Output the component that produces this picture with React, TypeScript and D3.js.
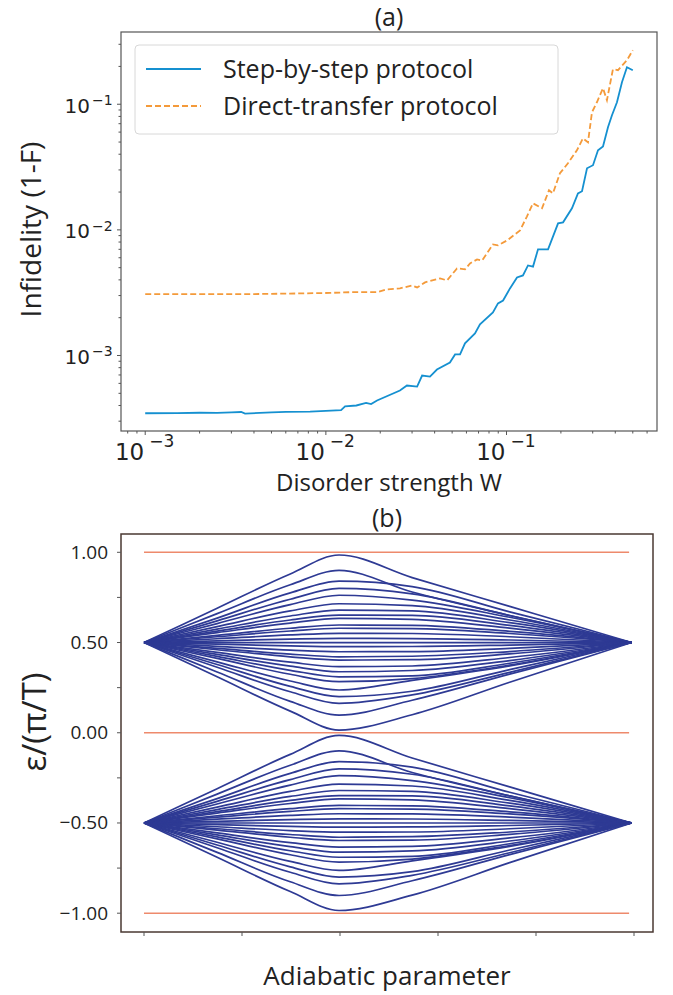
import React from "react";
import * as d3 from "d3";

// panel (a): infidelity vs disorder strength
const stepW = [0.001, 0.0015, 0.002, 0.0025, 0.003, 0.0034, 0.00357, 0.005, 0.006, 0.00818, 0.01, 0.01214, 0.01277, 0.01475, 0.01669, 0.0178, 0.0192, 0.0257, 0.0281, 0.032, 0.0341, 0.0377, 0.0412, 0.0486, 0.0519, 0.0553, 0.0589, 0.0669, 0.0713, 0.0841, 0.0897, 0.0957, 0.1045, 0.1143, 0.1233, 0.1315, 0.1402, 0.1494, 0.1698, 0.1929, 0.2056, 0.2303, 0.2486, 0.2618, 0.279, 0.3011, 0.3209, 0.342, 0.3645, 0.3835, 0.4087, 0.4356, 0.4642, 0.5];
const stepInf = [3.47e-4, 3.48e-4, 3.5e-4, 3.49e-4, 3.52e-4, 3.55e-4, 3.45e-4, 3.53e-4, 3.56e-4, 3.57e-4, 3.62e-4, 3.67e-4, 3.93e-4, 4.0e-4, 4.2e-4, 4.1e-4, 4.38e-4, 5.26e-4, 5.77e-4, 5.66e-4, 6.93e-4, 6.8e-4, 7.73e-4, 8.79e-4, 1.02e-3, 1.02e-3, 1.25e-3, 1.5e-3, 1.77e-3, 2.2e-3, 2.6e-3, 2.74e-3, 3.42e-3, 4.18e-3, 4.34e-3, 5.21e-3, 5.1e-3, 7.0e-3, 7.0e-3, 0.01127, 0.01148, 0.01484, 0.01953, 0.0203, 0.0309, 0.0327, 0.043, 0.0462, 0.0656, 0.0817, 0.1037, 0.1496, 0.197, 0.1866];
const directW = [0.001, 0.00381, 0.0072, 0.01055, 0.01361, 0.0192, 0.0218, 0.0257, 0.03, 0.032, 0.0354, 0.0429, 0.0469, 0.0532, 0.0589, 0.0628, 0.0687, 0.0733, 0.0841, 0.0897, 0.1007, 0.1188, 0.1298, 0.1402, 0.1572, 0.1718, 0.1807, 0.1976, 0.2188, 0.2453, 0.2649, 0.2825, 0.2972, 0.3165, 0.342, 0.3597, 0.3882, 0.414, 0.4642, 0.5];
const directInf = [3.08e-3, 3.08e-3, 3.12e-3, 3.15e-3, 3.19e-3, 3.19e-3, 3.36e-3, 3.42e-3, 3.61e-3, 3.48e-3, 3.82e-3, 4.11e-3, 3.96e-3, 4.94e-3, 4.85e-3, 5.41e-3, 5.82e-3, 5.71e-3, 7.66e-3, 7.52e-3, 8.24e-3, 9.9e-3, 0.01282, 0.01627, 0.01484, 0.02065, 0.01953, 0.0282, 0.0339, 0.043, 0.0535, 0.0498, 0.0863, 0.1037, 0.134, 0.1077, 0.19, 0.1866, 0.2244, 0.269];
const legendLabels = ["Step-by-step protocol", "Direct-transfer protocol"];
const decadeExps = [-3, -2, -1];

// panel (b): quasienergy bands, deviation of each level from its band centre
const bandKnots = [0, 0.15, 0.3, 0.4, 0.55, 0.75, 1];
const bandOffsets = [
  [0, 0.19, 0.38, 0.485, 0.36, 0.2, 0],
  [0, 0.16, 0.32, 0.4, 0.28, 0.15, 0],
  [0, 0.135, 0.275, 0.34, 0.31, 0.17, 0],
  [0, 0.12, 0.24, 0.3, 0.27, 0.15, 0],
  [0, 0.105, 0.21, 0.262, 0.235, 0.14, 0],
  [0, 0.088, 0.175, 0.215, 0.205, 0.125, 0],
  [0, 0.074, 0.147, 0.18, 0.175, 0.11, 0],
  [0, 0.063, 0.125, 0.152, 0.15, 0.095, 0],
  [0, 0.055, 0.108, 0.134, 0.128, 0.08, 0],
  [0, 0.04, 0.079, 0.097, 0.095, 0.062, 0],
  [0, 0.032, 0.064, 0.079, 0.077, 0.05, 0],
  [0, 0.021, 0.042, 0.051, 0.05, 0.032, 0],
  [0, 0.009, 0.019, 0.023, 0.022, 0.014, 0],
  [0, 0, 0, 0, 0, 0, 0],
  [0, -0.009, -0.019, -0.023, -0.022, -0.014, 0],
  [0, -0.021, -0.042, -0.051, -0.05, -0.032, 0],
  [0, -0.032, -0.064, -0.079, -0.076, -0.05, 0],
  [0, -0.04, -0.079, -0.097, -0.095, -0.063, 0],
  [0, -0.055, -0.109, -0.134, -0.13, -0.083, 0],
  [0, -0.066, -0.131, -0.162, -0.155, -0.1, 0],
  [0, -0.077, -0.154, -0.19, -0.185, -0.115, 0],
  [0, -0.088, -0.176, -0.217, -0.2, -0.125, 0],
  [0, -0.107, -0.213, -0.263, -0.21, -0.13, 0],
  [0, -0.122, -0.243, -0.3, -0.27, -0.15, 0],
  [0, -0.137, -0.273, -0.337, -0.29, -0.165, 0],
  [0, -0.163, -0.326, -0.402, -0.32, -0.175, 0],
  [0, -0.19, -0.38, -0.485, -0.4, -0.22, 0],
];
const bandCenters = [0.5, -0.5];
const boundaryLevels = [1, 0, -1];
const epsTicks = [-1, -0.75, -0.5, -0.25, 0, 0.25, 0.5, 0.75, 1];
const epsLabels = ["−1.00", "", "−0.50", "", "0.00", "", "0.50", "", "1.00"];
const adiabTicks = [0, 0.2, 0.4, 0.6, 0.8, 1];

const labelFont = "'Open Sans', 'Noto Sans', sans-serif";
const mathFont = "'DejaVu Sans', sans-serif";

const App = () => {
  // panel (a) scales
  const aL = 121, aR = 657, aT = 32, aB = 431;
  const xW = d3.scaleLog().domain([10 ** -3.134, 10 ** -0.167]).range([aL, aR]);
  const yI = d3.scaleLog().domain([10 ** -3.601, 10 ** -0.425]).range([aB, aT]);

  // panel (b) scales
  const bL = 121, bR = 653, bT = 534, bB = 932;
  const xA = d3.scaleLinear().domain([0, 1]).range([144, 634]);
  const yE = d3.scaleLinear().domain([-1, 1]).range([913.2, 552.3]);

  const lineA = d3.line<[number, number]>().x((d) => xW(d[0])).y((d) => yI(d[1]));
  const stepPts = stepW.map((w, i) => [w, stepInf[i]] as [number, number]);
  const directPts = directW.map((w, i) => [w, directInf[i]] as [number, number]);

  const minorX: number[] = [];
  const minorY: number[] = [];
  [-4, -3, -2, -1].forEach((e) => {
    for (let k = 2; k < 10; k++) {
      const v = k * 10 ** e;
      if (xW(v) > aL && xW(v) < aR) minorX.push(v);
      if (yI(v) > aT && yI(v) < aB) minorY.push(v);
    }
  });

  const lineB = d3
    .line<[number, number]>()
    .x((d) => xA(d[0]))
    .y((d) => yE(d[1]))
    .curve(d3.curveMonotoneX);

  const blue = "#1590d0";
  const orange = "#f49a3a";
  const navy = "#2e3a94";

  return (
    <svg width={673} height={995} style={{ position: "absolute", left: 0, top: 0, background: "#fff" }}>
      {/* ---------- panel (a) ---------- */}
      <text x={(aL + aR) / 2} y={26} textAnchor="middle" fontFamily={labelFont} fontSize={25} fill="#222">(a)</text>
      <rect x={aL} y={aT} width={aR - aL} height={aB - aT} fill="none" stroke="#555" strokeWidth={1.2} />

      {decadeExps.map((e) => (
        <g key={"xt" + e}>
          <line x1={xW(10 ** e)} x2={xW(10 ** e)} y1={aB} y2={aB + 4} stroke="#555" />
          <text x={xW(10 ** e) - 1} y={460} textAnchor="end" fontFamily={mathFont} fontSize={23} fill="#222">10</text>
          <text x={xW(10 ** e) + 4} y={447} fontFamily={mathFont} fontSize={17} fill="#222">{"−" + -e}</text>
        </g>
      ))}
      {minorX.map((v) => (
        <line key={"xm" + v} x1={xW(v)} x2={xW(v)} y1={aB} y2={aB + 2.5} stroke="#555" />
      ))}
      {decadeExps.map((e) => (
        <g key={"yt" + e}>
          <line x1={aL - 4} x2={aL} y1={yI(10 ** e)} y2={yI(10 ** e)} stroke="#555" />
          <text x={90} y={yI(10 ** e) + 8.5} textAnchor="end" fontFamily={mathFont} fontSize={20} fill="#222">10</text>
          <text x={92} y={yI(10 ** e) + 1} fontFamily={mathFont} fontSize={14} fill="#222">{"−" + -e}</text>
        </g>
      ))}
      {minorY.map((v) => (
        <line key={"ym" + v} x1={aL - 2.5} x2={aL} y1={yI(v)} y2={yI(v)} stroke="#555" />
      ))}

      <path d={lineA(directPts) || ""} fill="none" stroke={orange} strokeWidth={1.8} strokeDasharray="6,3" />
      <path d={lineA(stepPts) || ""} fill="none" stroke={blue} strokeWidth={1.8} />

      <rect x={135} y={45} width={423} height={89} rx={4} fill="#fff" fillOpacity={0.85} stroke="#d8d8d8" />
      {legendLabels.map((lab, i) => (
        <g key={lab}>
          <line x1={146} x2={201} y1={69 + i * 37} y2={69 + i * 37} stroke={i === 0 ? blue : orange} strokeWidth={1.8} strokeDasharray={i === 0 ? undefined : "6,3"} />
          <text x={223} y={78 + i * 37} fontFamily={labelFont} fontSize={25} fill="#222">{lab}</text>
        </g>
      ))}

      <text x={(aL + aR) / 2} y={491} textAnchor="middle" fontFamily={labelFont} fontSize={24} fill="#222">Disorder strength W</text>
      <text transform={`translate(41,${(aT + aB) / 2 - 2}) rotate(-90)`} textAnchor="middle" fontFamily={labelFont} fontSize={28} fill="#222">Infidelity (1-F)</text>

      {/* ---------- panel (b) ---------- */}
      <text x={(bL + bR) / 2} y={527} textAnchor="middle" fontFamily={labelFont} fontSize={25} fill="#222">(b)</text>

      {boundaryLevels.map((lv) => (
        <line key={"bd" + lv} x1={xA(0)} x2={xA(0.99)} y1={yE(lv)} y2={yE(lv)} stroke="#ee8a6c" strokeWidth={1.5} />
      ))}
      {bandCenters.map((c) =>
        bandOffsets.map((offs, j) => (
          <path
            key={"lv" + c + "_" + j}
            d={lineB(bandKnots.map((k, i) => [k * 0.995, c + offs[i]] as [number, number])) || ""}
            fill="none"
            stroke={navy}
            strokeWidth={1.7}
          />
        ))
      )}

      <rect x={bL} y={bT} width={bR - bL} height={bB - bT} fill="none" stroke="#4a3832" strokeWidth={1.5} />
      {epsTicks.map((t, i) => (
        <g key={"et" + t}>
          <line x1={bL - 4} x2={bL} y1={yE(t)} y2={yE(t)} stroke="#555" />
          {epsLabels[i] && (
            <text x={108} y={yE(t) + 6.5} textAnchor="end" fontFamily={labelFont} fontSize={19} fill="#222">{epsLabels[i]}</text>
          )}
        </g>
      ))}
      {adiabTicks.map((t) => (
        <line key={"at" + t} x1={xA(t)} x2={xA(t)} y1={bB} y2={bB + 4} stroke="#555" />
      ))}
      <text x={(bL + bR) / 2} y={985} textAnchor="middle" fontFamily={labelFont} fontSize={26} fill="#222">Adiabatic parameter</text>
      <text transform={`translate(46,722) rotate(-90)`} textAnchor="middle" fontFamily={labelFont} fontSize={33} fill="#222">ε/(π/T)</text>
    </svg>
  );
};

export default App;
